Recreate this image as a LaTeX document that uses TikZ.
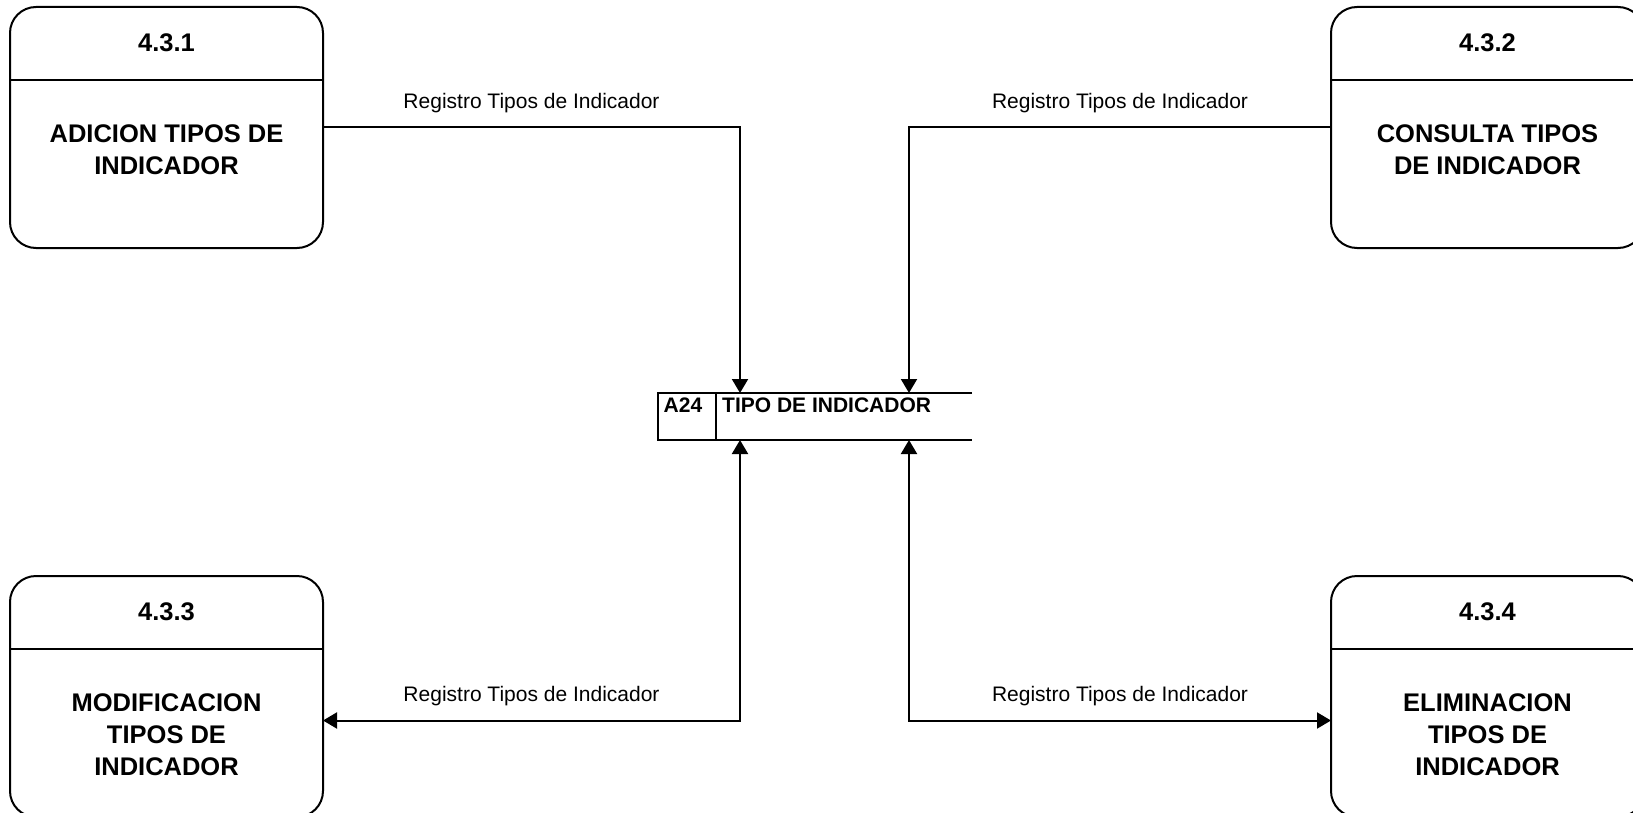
\documentclass[tikz,border=0pt]{standalone}
\usepackage{fontspec}
\setmainfont{Liberation Sans}
\usetikzlibrary{arrows.meta}

\tikzset{
  >={Triangle[length=14pt,width=16pt]},
  proc/.style={draw,line width=2pt,rounded corners=26pt,minimum width=313pt,
    minimum height=241pt,inner sep=0pt,outer sep=0pt},
  ptitle/.style={font=\fontsize{25.5}{32}\selectfont\bfseries,inner sep=0pt},
  ptext/.style={font=\fontsize{25.5}{32}\selectfont\bfseries,align=center,
    anchor=north,inner sep=0pt},
  stxt/.style={font=\fontsize{21}{25}\selectfont\bfseries,inner sep=0pt},
  flow/.style={line width=2pt},
  flowlabel/.style={font=\fontsize{21}{25}\selectfont,inner sep=0pt,above=14pt},
}

\begin{document}
\begin{tikzpicture}[x=1pt,y=-1pt]
  \useasboundingbox (0,0) rectangle (1633,813);
  \clip (0,0) rectangle (1633,813);
  % processes
  \foreach \n/\x/\y/\txt in {1/166.5/127.5/{ADICION TIPOS DE\\INDICADOR},
      2/1487.5/127.5/{CONSULTA TIPOS\\DE INDICADOR},
      3/166.5/696.5/{MODIFICACION\\TIPOS DE\\INDICADOR},
      4/1487.5/696.5/{ELIMINACION\\TIPOS DE\\INDICADOR}} {
    \node[proc] (p\n) at (\x,\y) {};
    \draw[line width=2pt] ([yshift=-73pt]p\n.north west) -- ([yshift=-73pt]p\n.north east);
    \node[ptitle] (t\n) at ([yshift=-36pt]p\n.north) {4.3.\n};
    \node[ptext] (d\n) at ([yshift=-117pt]p\n.north) {\txt};
  }
  % data store
  \node[minimum width=314pt,minimum height=47pt,inner sep=0pt,outer sep=0pt] (store) at (815,416.5) {};
  \draw[line width=2pt] (store.north east) -- (store.north west) -- (store.south west) -- (store.south east);
  \draw[line width=2pt] ([xshift=58pt]store.north west) -- ([xshift=58pt]store.south west);
  \node[stxt] (sid) at ([xshift=25pt,yshift=-12pt]store.north west) {A24};
  \node[stxt,anchor=west] (sname) at ([xshift=64pt,yshift=-12pt]store.north west) {TIPO DE INDICADOR};
  \coordinate (inA) at ([xshift=82pt]store.north west);
  \coordinate (inB) at ([xshift=251pt]store.north west);
  \coordinate (outA) at ([xshift=82pt]store.south west);
  \coordinate (outB) at ([xshift=251pt]store.south west);
  % flows
  \draw[flow,->] (p1.east) -| node[flowlabel,pos=0.25] (l1) {Registro Tipos de Indicador} (inA);
  \draw[flow,->] (p2.west) -| node[flowlabel,pos=0.25] (l2) {Registro Tipos de Indicador} (inB);
  \draw[flow,<->] (outA) |- node[flowlabel,pos=0.75] (l3) {Registro Tipos de Indicador} ([yshift=-24pt]p3.east);
  \draw[flow,<->] (outB) |- node[flowlabel,pos=0.75] (l4) {Registro Tipos de Indicador} ([yshift=-24pt]p4.west);
\end{tikzpicture}
\end{document}
